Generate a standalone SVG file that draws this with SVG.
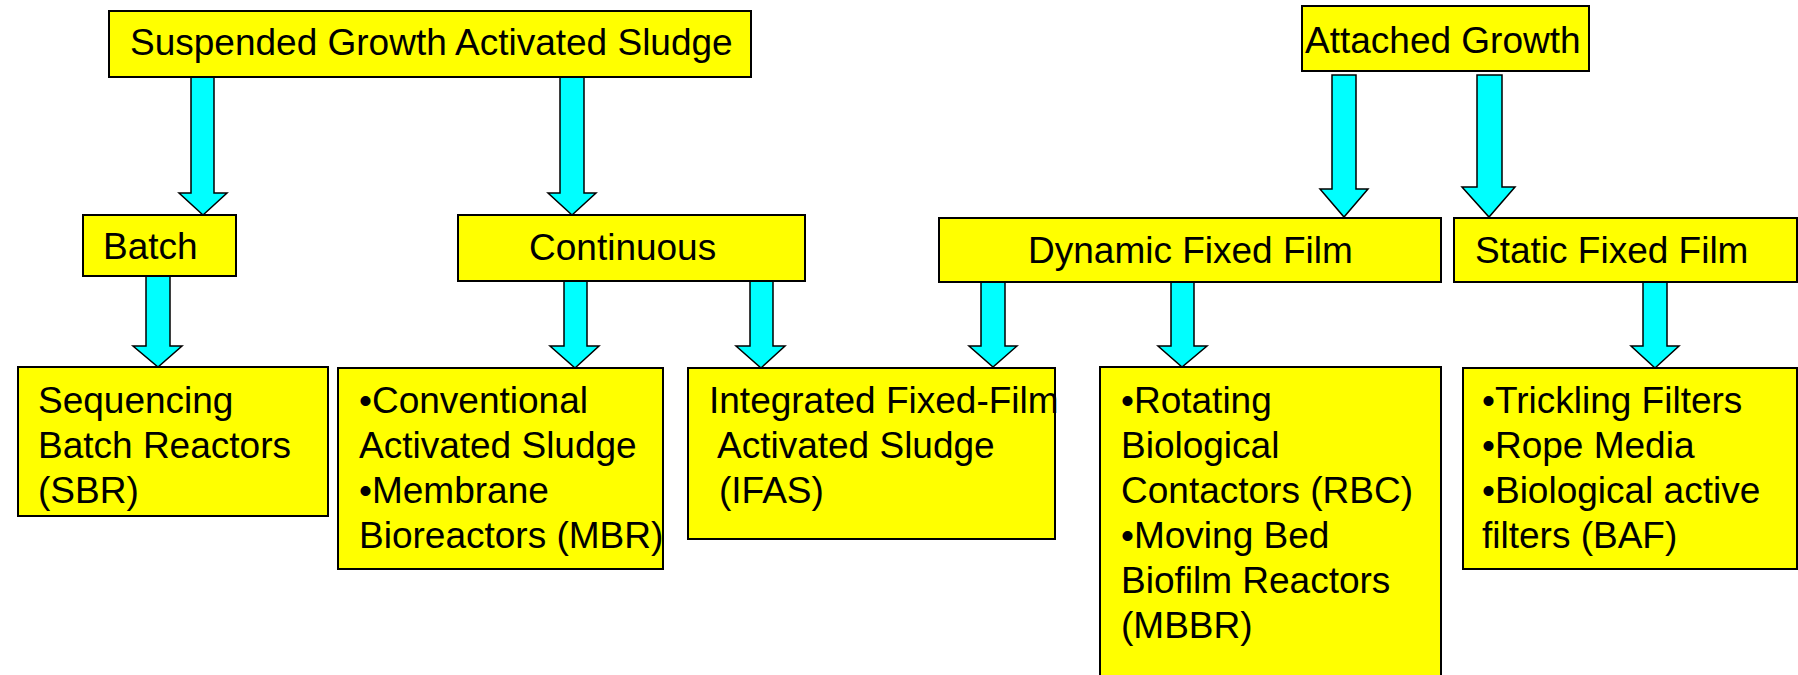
<svg xmlns="http://www.w3.org/2000/svg" width="1798" height="675" viewBox="0 0 1798 675">
<style>
.box{fill:#FFFF00;stroke:#000;stroke-width:2}
.arr{fill:#00FFFF;stroke:#000;stroke-width:1.5;stroke-linejoin:miter}
text{font-family:"Liberation Sans",Arial,sans-serif;font-size:37px;fill:#000}
</style>
<rect width="1798" height="675" fill="#fff"/>
<g id="connectors">
<path class="arr" d="M191 77H214V193H227L203 215L179 193H191Z"/>
<path class="arr" d="M560 77H584V193H596L572 215L548 193H560Z"/>
<path class="arr" d="M146 276H170V346H182L158 367L133 346H146Z"/>
<path class="arr" d="M564 281H587V346H599L575 368L550 346H564Z"/>
<path class="arr" d="M750 281H773V346H785L761 368L736 346H750Z"/>
<path class="arr" d="M981 282H1005V346H1017L993 367L969 346H981Z"/>
<path class="arr" d="M1171 282H1194V346H1207L1182 367L1158 346H1171Z"/>
<path class="arr" d="M1643 282H1667V346H1679L1655 368L1631 346H1643Z"/>
<path class="arr" d="M1332 75H1356V189H1368L1344 217L1320 189H1332Z"/>
<path class="arr" d="M1477 75H1502V187H1515L1489 217L1462 187H1477Z"/>
</g>
<g id="suspended">
<rect class="box" x="109" y="11" width="642" height="66"/>
<text x="130" y="55">Suspended Growth Activated Sludge</text>
</g>
<g id="attached">
<rect class="box" x="1302" y="6" width="287" height="65"/>
<text x="1305" y="53">Attached Growth</text>
</g>
<g id="batch">
<rect class="box" x="83" y="215" width="153" height="61"/>
<text x="103" y="259">Batch</text>
</g>
<g id="continuous">
<rect class="box" x="458" y="215" width="347" height="66"/>
<text x="529" y="260">Continuous</text>
</g>
<g id="dynamic">
<rect class="box" x="939" y="218" width="502" height="64"/>
<text x="1028" y="263">Dynamic Fixed Film</text>
</g>
<g id="static">
<rect class="box" x="1454" y="218" width="343" height="64"/>
<text x="1475" y="263">Static Fixed Film</text>
</g>
<g id="sbr">
<rect class="box" x="18" y="367" width="310" height="149"/>
<text x="38" y="413">Sequencing</text>
<text x="38" y="458">Batch Reactors</text>
<text x="38" y="503">(SBR)</text>
</g>
<g id="conventional">
<rect class="box" x="338" y="368" width="325" height="201"/>
<text x="359" y="413">•Conventional</text>
<text x="359" y="458">Activated Sludge</text>
<text x="359" y="503">•Membrane</text>
<text x="359" y="548">Bioreactors (MBR)</text>
</g>
<g id="ifas">
<rect class="box" x="688" y="368" width="367" height="171"/>
<text x="709" y="413">Integrated Fixed-Film</text>
<text x="717" y="458">Activated Sludge</text>
<text x="719" y="503">(IFAS)</text>
</g>
<g id="rbc">
<rect class="box" x="1100" y="367" width="341" height="312"/>
<text x="1121" y="413">•Rotating</text>
<text x="1121" y="458">Biological</text>
<text x="1121" y="503">Contactors (RBC)</text>
<text x="1121" y="548">•Moving Bed</text>
<text x="1121" y="593">Biofilm Reactors</text>
<text x="1121" y="638">(MBBR)</text>
</g>
<g id="trickling">
<rect class="box" x="1463" y="368" width="334" height="201"/>
<text x="1482" y="413">•Trickling Filters</text>
<text x="1482" y="458">•Rope Media</text>
<text x="1482" y="503">•Biological active</text>
<text x="1482" y="548">filters (BAF)</text>
</g>
</svg>
